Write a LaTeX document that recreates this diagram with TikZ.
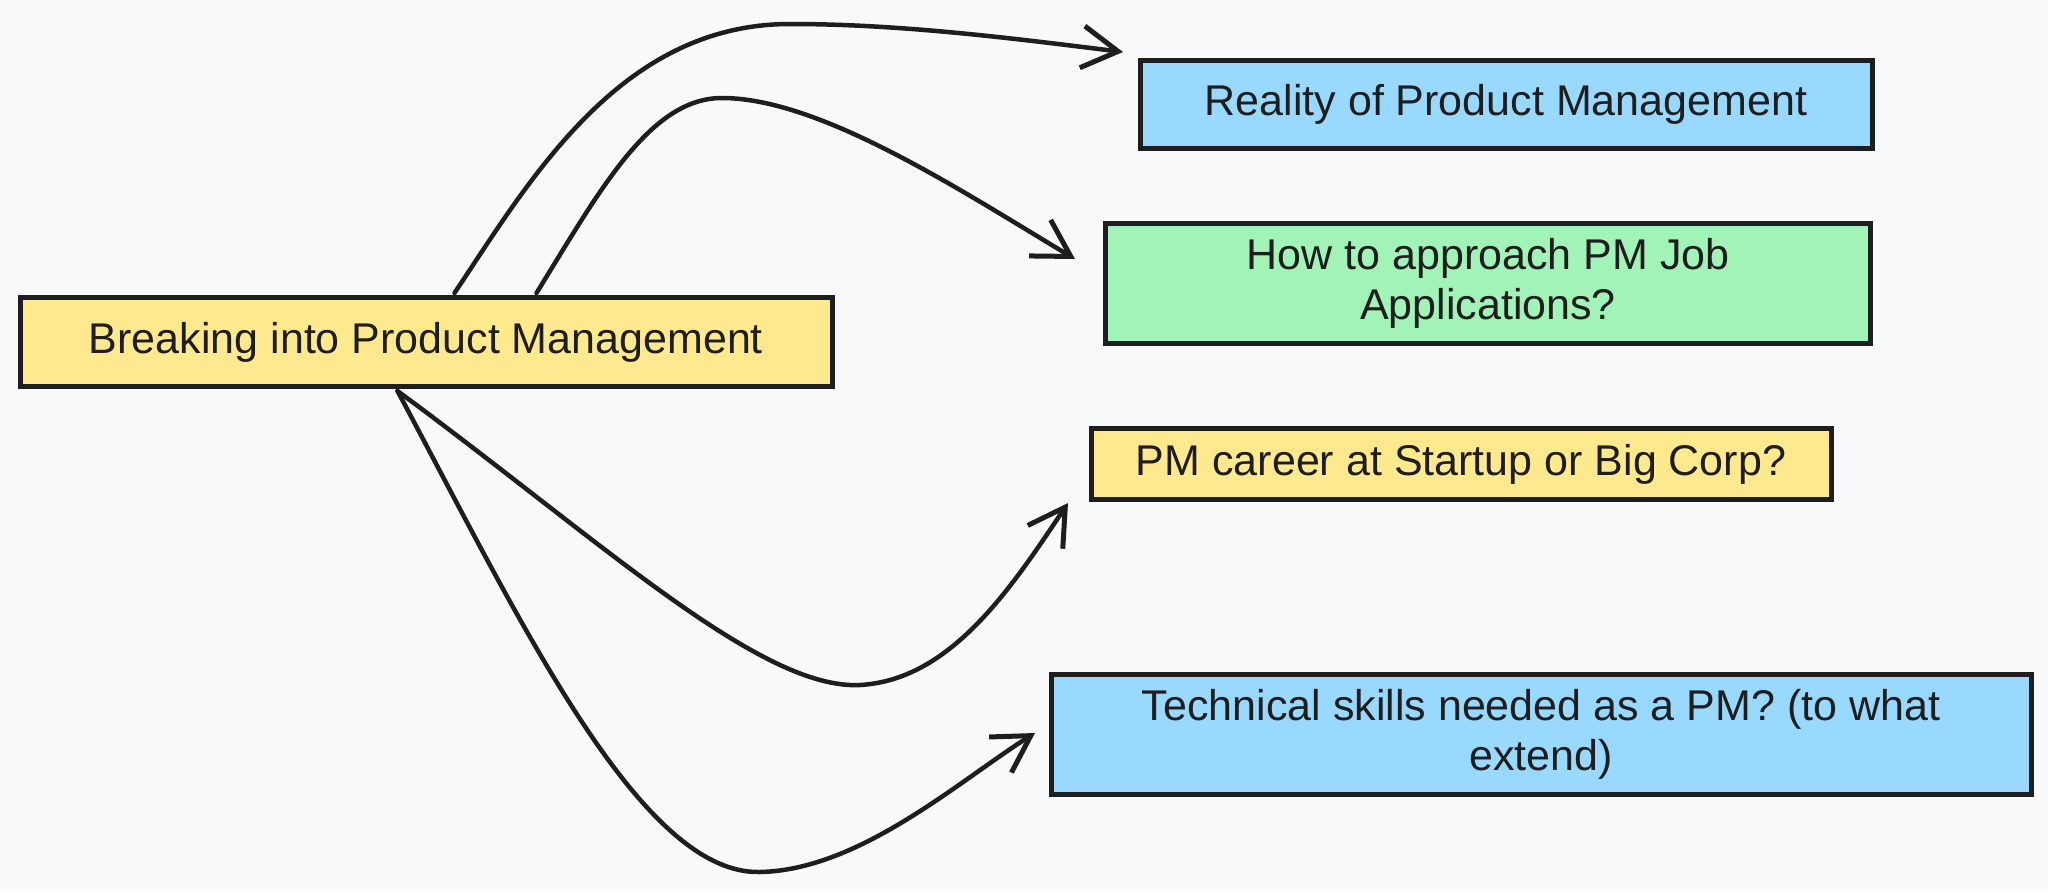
\documentclass[tikz,border=0pt]{standalone}
\usepackage{fontspec}
\setmainfont{Liberation Sans}
\usetikzlibrary{arrows.meta}
\definecolor{bg}{HTML}{F8F9FA}
\definecolor{ink}{HTML}{1E1E1E}
\definecolor{boxyellow}{HTML}{FFE98F}
\definecolor{boxblue}{HTML}{99D8FF}
\definecolor{boxgreen}{HTML}{A2F3B8}
\tikzset{
  card/.style={draw=ink, line width=5pt, rectangle, inner sep=0pt, align=center,
    font=\fontsize{43}{50}\selectfont, text=ink},
  link/.style={draw=ink, line width=4.5pt, line cap=round, line join=round,
    -{Straight Barb[length=36pt,width=42pt,line width=5pt]}}
}
\begin{document}
\begin{tikzpicture}[x=1pt,y=-1pt]
\fill[bg] (0,0) rectangle (2048,892);
\useasboundingbox (0,0) rectangle (2048,892);

\node[card, fill=boxyellow, minimum width=812pt, minimum height=89pt] (b1) at (426,342) {Breaking into Product Management};
\node[card, fill=boxblue, minimum width=732pt, minimum height=88pt] (r1) at (1506,104) {Reality of Product Management};
\node[card, fill=boxgreen, minimum width=765pt, minimum height=120pt] (r2) at (1488,283) {How to approach PM Job\\Applications?};
\node[card, fill=boxyellow, minimum width=740pt, minimum height=71pt] (r3) at (1461,464) {PM career at Startup or Big Corp?};
\node[card, fill=boxblue, minimum width=980pt, minimum height=120pt] (r4) at (1541,734) {Technical skills needed as a PM? (to what\\extend)};

\coordinate (s1) at ([xshift=437pt,yshift=2pt]b1.north west);
\coordinate (s2) at ([xshift=519pt,yshift=2pt]b1.north west);
\coordinate (s3) at ([xshift=380pt,yshift=-2pt]b1.south west);
\coordinate (t1) at (1123,52);
\coordinate (t2) at (1075,259);
\coordinate (t3) at (1068,503);
\coordinate (t4) at (1035,733);

\draw[link] (s1) .. controls (530,180) and (620,24) .. (790,24) .. controls (900,24) and (1010,38) .. (t1);
\draw[link] (s2) .. controls (600,190) and (650,98) .. (722,98) .. controls (820,98) and (960,190) .. (t2);
\draw[link] (s3) .. controls (600,540) and (760,690) .. (860,685) .. controls (950,680) and (1010,590) .. (t3);
\draw[link] (s3) .. controls (520,620) and (640,875) .. (760,872) .. controls (860,870) and (960,780) .. (t4);
\end{tikzpicture}
\end{document}
